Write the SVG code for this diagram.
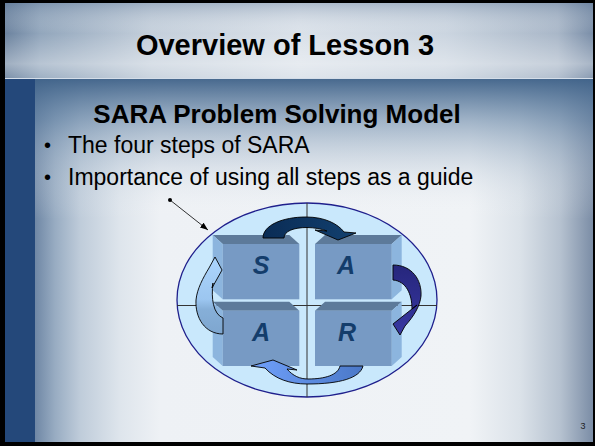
<svg xmlns="http://www.w3.org/2000/svg" width="595" height="446" viewBox="0 0 595 446">
<style>
.ttl{font-family:"Liberation Sans",Arial,sans-serif;font-weight:bold;fill:#000}
.txt{font-family:"Liberation Sans",Arial,sans-serif;font-size:23px;fill:#000}
.bul{font-family:"Liberation Sans",Arial,sans-serif;font-size:20px;fill:#000}
.lt{font-family:"Liberation Sans",Arial,sans-serif;font-weight:bold;font-style:italic;font-size:25px;fill:#143d6b;text-anchor:middle}
.front{fill:#779ac4}
.topf{fill:#5d7a9a}
.side{fill:#8cb5de}
.arr{stroke:#000;stroke-width:0.9;stroke-linejoin:round}
.cross{stroke:#333;stroke-width:1;fill:none}
</style>
<defs>
<linearGradient id="bandH" gradientUnits="userSpaceOnUse" x1="5" y1="0" x2="593" y2="0">
<stop offset="0" stop-color="#6c839f"/>
<stop offset="0.06" stop-color="#92a6bc"/>
<stop offset="0.25" stop-color="#c4cfdb"/>
<stop offset="0.5" stop-color="#dae1e9"/>
<stop offset="0.75" stop-color="#cbd5e0"/>
<stop offset="0.94" stop-color="#a9b7c8"/>
<stop offset="1" stop-color="#7a8ea8"/>
</linearGradient>
<linearGradient id="bandV" x1="0" y1="0" x2="0" y2="1">
<stop offset="0" stop-color="#5a7596" stop-opacity="0.35"/>
<stop offset="0.4" stop-color="#ffffff" stop-opacity="0"/>
<stop offset="0.8" stop-color="#ffffff" stop-opacity="0.35"/>
<stop offset="1" stop-color="#ffffff" stop-opacity="0.1"/>
</linearGradient>
<linearGradient id="bodyH" gradientUnits="userSpaceOnUse" x1="35" y1="0" x2="593" y2="0">
<stop offset="0" stop-color="#6f87a5"/>
<stop offset="0.036" stop-color="#98acc2"/>
<stop offset="0.081" stop-color="#bfccda"/>
<stop offset="0.152" stop-color="#dee5ec"/>
<stop offset="0.224" stop-color="#eef1f5"/>
<stop offset="0.78" stop-color="#f0f3f6"/>
<stop offset="0.869" stop-color="#dbe2e9"/>
<stop offset="0.941" stop-color="#b6c2d0"/>
<stop offset="1" stop-color="#7b8da6"/>
</linearGradient>
<linearGradient id="bodyV" x1="0" y1="0" x2="0" y2="1">
<stop offset="0" stop-color="#3f6289" stop-opacity="0.95"/>
<stop offset="0.3" stop-color="#6080a2" stop-opacity="0.55"/>
<stop offset="1" stop-color="#ffffff" stop-opacity="0"/>
</linearGradient>
<linearGradient id="gTop" x1="0" y1="0" x2="1" y2="0">
<stop offset="0" stop-color="#0a2c55"/>
<stop offset="1" stop-color="#12406f"/>
</linearGradient>
<linearGradient id="gRight" x1="0" y1="0" x2="0" y2="1">
<stop offset="0" stop-color="#26267c"/>
<stop offset="1" stop-color="#3838a2"/>
</linearGradient>
<linearGradient id="gBottom" x1="0" y1="0" x2="1" y2="0">
<stop offset="0" stop-color="#70a0fa"/>
<stop offset="1" stop-color="#4a78c8"/>
</linearGradient>
<linearGradient id="gLeft" x1="0" y1="0" x2="0" y2="1">
<stop offset="0" stop-color="#acd5fc"/>
<stop offset="0.55" stop-color="#9cc6f0"/>
<stop offset="0.68" stop-color="#86afd8"/>
<stop offset="1" stop-color="#7ea6cf"/>
</linearGradient>
<marker id="ptr" markerUnits="userSpaceOnUse" markerWidth="8" markerHeight="6" refX="8" refY="3" orient="auto">
<path d="M0,0 L8,3 L0,6 z" fill="#000"/>
</marker>
</defs>

<g id="background">
<rect x="0" y="0" width="595" height="446" fill="#000"/>
<rect x="5" y="79" width="588" height="363" fill="url(#bodyH)"/>
<rect x="5" y="79" width="588" height="140" fill="url(#bodyV)"/>
<rect x="5" y="79" width="30" height="363" fill="#24487a"/>
<rect x="5" y="3" width="588" height="76" fill="url(#bandH)"/>
<rect x="5" y="3" width="588" height="76" fill="url(#bandV)"/>
<line x1="5" y1="78.5" x2="593" y2="78.5" stroke="#d4dde8" stroke-width="1"/>
</g>

<g id="texts">
<text class="ttl" x="285" y="55" font-size="29" text-anchor="middle">Overview of Lesson 3</text>
<text class="ttl" x="277" y="123" font-size="26" text-anchor="middle">SARA Problem Solving Model</text>
<text class="bul" x="44" y="152">•</text>
<text class="txt" x="68" y="153">The four steps of SARA</text>
<text class="bul" x="44" y="184">•</text>
<text class="txt" x="68" y="185">Importance of using all steps as a guide</text>
<text x="583" y="429" font-family="Liberation Sans, Arial, sans-serif" font-size="9" fill="#222" text-anchor="middle">3</text>
</g>

<g id="pointer">
<circle cx="170" cy="200" r="2" fill="#000"/>
<line x1="170" y1="200" x2="208" y2="230" stroke="#000" stroke-width="0.8" marker-end="url(#ptr)"/>
</g>

<g id="cycle">
<ellipse cx="307" cy="300" rx="130" ry="97" fill="#c9e8fc" stroke="#1f1f8c" stroke-width="1.3"/>
<line class="cross" x1="307" y1="203" x2="307" y2="397"/>
<line class="cross" x1="177" y1="305.5" x2="437" y2="305.5"/>
</g>

<g id="node-S">
<polygon class="topf" points="212.7,235 289.3,235 299.3,244 222.7,244"/>
<polygon class="side" points="212.7,235 222.7,244 222.7,299.3 212.7,290.3"/>
<rect class="front" x="222.7" y="244" width="76.6" height="55.3"/>
<text class="lt" x="261" y="274">S</text>
</g>
<g id="node-A1">
<polygon class="topf" points="325,235 401.7,235 391.7,244 315,244"/>
<polygon class="side" points="401.7,235 391.7,244 391.7,299.3 401.7,290.3"/>
<rect class="front" x="315" y="244" width="76.7" height="55.3"/>
<text class="lt" x="346" y="274">A</text>
</g>
<g id="node-A2">
<polygon class="topf" points="212.7,301.7 289.3,301.7 299.3,310.7 222.7,310.7"/>
<polygon class="side" points="212.7,301.7 222.7,310.7 222.7,366 212.7,357"/>
<rect class="front" x="222.7" y="310.7" width="76.6" height="55.3"/>
<text class="lt" x="261" y="341">A</text>
</g>
<g id="node-R">
<polygon class="topf" points="325,301.7 401.7,301.7 391.7,310.7 315,310.7"/>
<polygon class="side" points="401.7,301.7 391.7,310.7 391.7,366 401.7,357"/>
<rect class="front" x="315" y="310.7" width="76.7" height="55.3"/>
<text class="lt" x="347" y="341">R</text>
</g>

<g id="connectors">
<path class="arr" fill="url(#gTop)" d="M263 238 C263 225 283 217 306 217 C325 217 338 224 344 232 L356 233 L338 240 L315 230 L327 231 C322 229 314 227.5 307 227.5 C294 227.5 284 231 284 238 Z"/>
<path class="arr" fill="url(#gRight)" d="M393 265 C412 265 422 280 421 296 C420 306 414 316 405 326 L400 335 L393 324 L417 305 L412 309 C412 294 406 281 393 280 Z"/>
<path class="arr" fill="url(#gBottom)" d="M363 366 C360 378 340 384 307 384 C290 384 275 379 265 368 L251 366 L273 360 L297 370 L287 369 C293 376 300 379 308 379 C325 379 338 375 340 366 Z"/>
<path class="arr" fill="url(#gLeft)" d="M223 334 C205 334 195 318 196 300 C197 289 203 278 209 268 L215 257 L222 270 L212 288 L213 283 C211 298 213 314 223 318 Z"/>
</g>
</svg>
